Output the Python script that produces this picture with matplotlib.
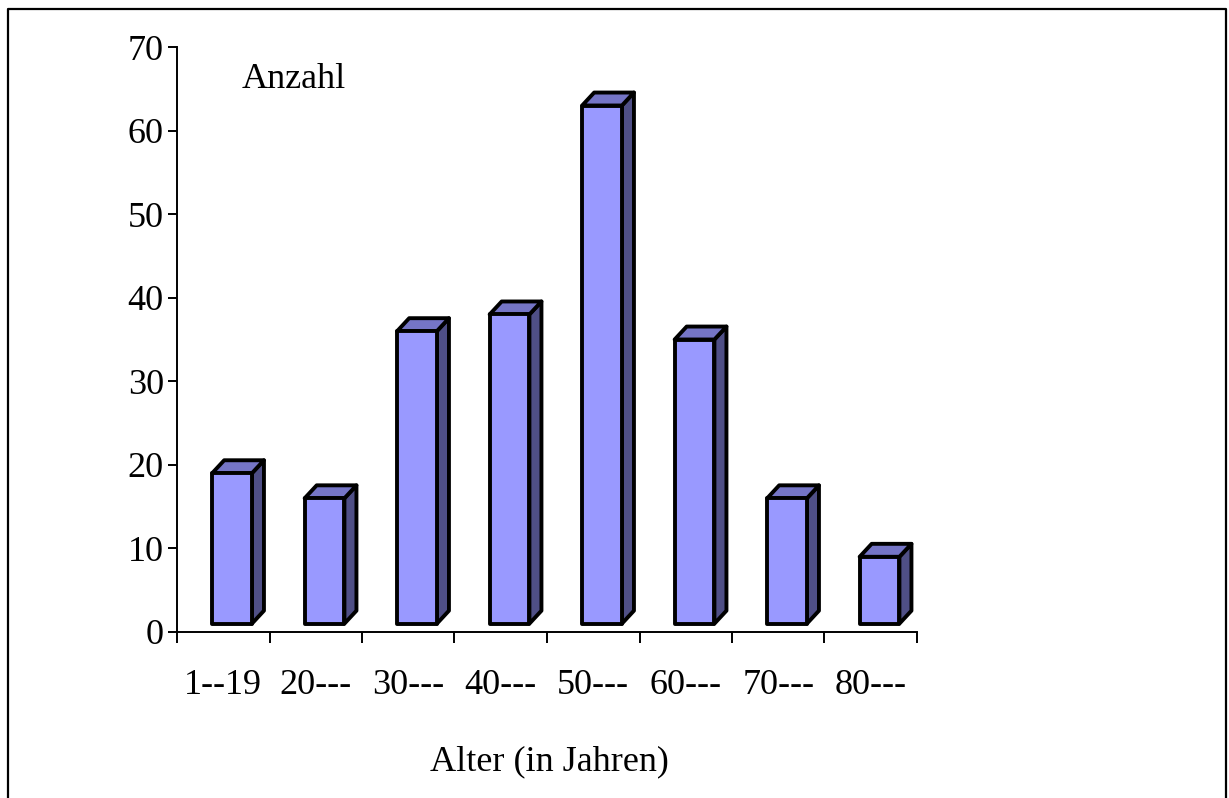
import matplotlib.pyplot as plt
from matplotlib.patches import Polygon
from matplotlib.lines import Line2D

plt.rcParams['font.family'] = ['Liberation Serif', 'DejaVu Serif']

# Daten: Altersgruppen und Anzahl
kategorien = ["1--19", "20---", "30---", "40---", "50---", "60---", "70---", "80---"]
anzahl = [19, 16, 36, 38, 63, 35, 16, 9]

W, H = 1229, 798
fig = plt.figure(figsize=(W / 100, H / 100), dpi=100)
ax = fig.add_axes([177 / W, 1 - 632 / H, (917 - 177) / W, (632 - 47) / H])

front = "#9999FF"
seite = "#4F4F86"
oben = "#7575C6"
x0, x1 = 0.38, 0.81   # Vorderseite innerhalb der Kategorie
dx, dy = 0.13, 1.55   # Tiefe des 3D-Effekts
basis = 1.0

for i, v in enumerate(anzahl):
    l, r = i + x0, i + x1
    kw = dict(ec="black", lw=2.8, joinstyle="round", zorder=3)
    ax.add_patch(Polygon([(r, basis), (r + dx, basis + dy), (r + dx, v + dy), (r, v)],
                         fc=seite, **kw))
    ax.add_patch(Polygon([(l, v), (l + dx, v + dy), (r + dx, v + dy), (r, v)],
                         fc=oben, **kw))
    ax.add_patch(Polygon([(l, basis), (r, basis), (r, v), (l, v)], fc=front, **kw))

ax.set_xlim(0, len(kategorien))
ax.set_ylim(0, 70)
for s in ["top", "right"]:
    ax.spines[s].set_visible(False)
for s in ["left", "bottom"]:
    ax.spines[s].set_linewidth(1.4)

ax.set_yticks(range(0, 71, 10))
ax.tick_params(axis="y", length=6.5, width=1.4, pad=3, labelsize=26)
ax.set_xticks(range(0, len(kategorien) + 1))
ax.set_xticklabels([])
ax.tick_params(axis="x", which="major", length=8, width=1.4)
ax.set_xticks([i + 0.5 for i in range(len(kategorien))], minor=True)
ax.set_xticklabels(kategorien, minor=True)
ax.tick_params(axis="x", which="minor", length=0, pad=27, labelsize=26)

ax.text(0.7, 65.1, "Anzahl", fontsize=26, va="baseline", ha="left")
fig.text(549 / W, 1 - 770 / H, "Alter (in Jahren)", fontsize=26, ha="center", va="baseline")

# Rahmen um die Grafik
fig.add_artist(Line2D([8 / W, 8 / W, 1226 / W, 1226 / W], [0, 1 - 9 / H, 1 - 9 / H, 0],
                      color="black", lw=1.6, transform=fig.transFigure))

fig.savefig("out.png", dpi=100)
